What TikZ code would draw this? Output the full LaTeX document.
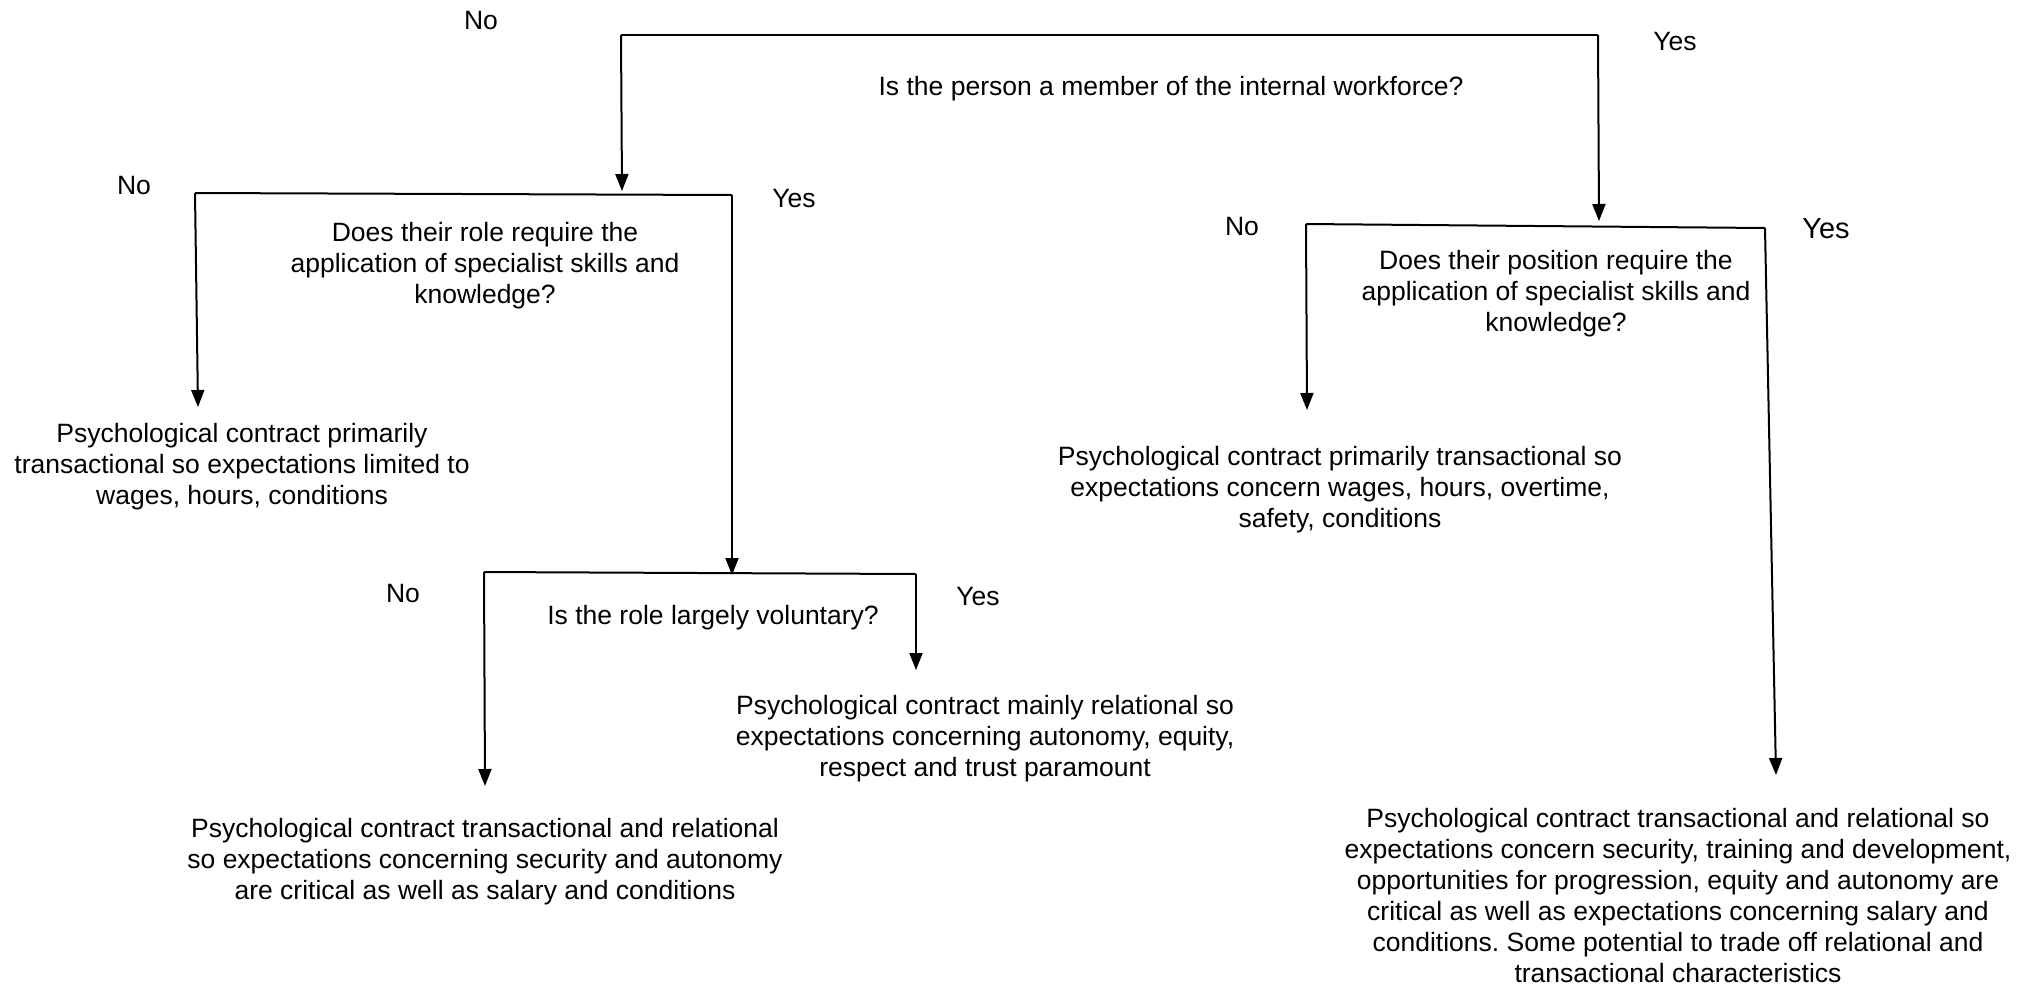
\documentclass[tikz,border=0pt]{standalone}
\usepackage{fontspec}
\setmainfont{Liberation Sans}
\usetikzlibrary{arrows.meta}
\frenchspacing
\begin{document}
\begin{tikzpicture}[x=0.5pt,y=-0.5pt,
  txt/.style={align=center,inner sep=0pt,font=\fontsize{13.25}{15.5}\selectfont},
  lbl/.style={inner sep=0pt,font=\fontsize{13.25}{15.5}\selectfont},
  biglbl/.style={inner sep=0pt,font=\fontsize{14.5}{17}\selectfont},
  link/.style={line width=1pt},
  arr/.style={line width=1pt,-{Triangle[length=8.5pt,width=6.5pt]}}]
\useasboundingbox (0,0) rectangle (2040,986);

% --- questions ---
\node[txt] (q1) at (1171,89) {Is the person a member of the internal workforce?};
\node[txt] (q2) at (485,266) {Does their role require the\\application of specialist skills and\\knowledge?};
\node[txt] (q3) at (713,618) {Is the role largely voluntary?};
\node[txt] (q4) at (1556,294) {Does their position require the\\application of specialist skills and\\knowledge?};

% --- outcomes ---
\node[txt] (oA) at (242,467) {Psychological contract primarily\\transactional so expectations limited to\\wages, hours, conditions};
\node[txt] (oB) at (985,739) {Psychological contract mainly relational so\\expectations concerning autonomy, equity,\\respect and trust paramount};
\node[txt] (oC) at (485,862) {Psychological contract transactional and relational\\so expectations concerning security and autonomy\\are critical as well as salary and conditions};
\node[txt] (oD) at (1340,490) {Psychological contract primarily transactional so\\expectations concern wages, hours, overtime,\\safety, conditions};
\node[txt] (oE) at (1678,896) {Psychological contract transactional and relational so\\expectations concern security, training and development,\\opportunities for progression, equity and autonomy are\\critical as well as expectations concerning salary and\\conditions. Some potential to trade off relational and\\transactional characteristics};

% --- branch labels ---
\node[lbl] (n1) at (481,21) {No};
\node[lbl] (y1) at (1675,42) {Yes};
\node[lbl] (n2) at (134,186) {No};
\node[lbl] (y2) at (794,199) {Yes};
\node[lbl] (n3) at (403,594) {No};
\node[lbl] (y3) at (978,597) {Yes};
\node[lbl] (n4) at (1242,227) {No};
\node[biglbl] (y4) at (1826,229) {Yes};

% --- branch corners and arrow ends ---
\coordinate (c1L) at (621,35);
\coordinate (c1R) at (1598,35);
\coordinate (e1L) at (622,191);
\coordinate (e1R) at (1599,221);

\coordinate (c2L) at (195,193);
\coordinate (c2R) at (732,195);
\coordinate (e2L) at (198,407);
\coordinate (e2R) at (732,575);

\coordinate (c3L) at (484,572);
\coordinate (c3R) at (916,574);
\coordinate (e3L) at (485,786);
\coordinate (e3R) at (916,670);

\coordinate (c4L) at (1306,224);
\coordinate (c4R) at (1765,228);
\coordinate (e4L) at (1307,410);
\coordinate (e4R) at (1776,775);

% --- connectors ---
\draw[link] (c1L) -- (c1R);
\draw[arr] (c1L) -- (e1L);
\draw[arr] (c1R) -- (e1R);

\draw[link] (c2L) -- (c2R);
\draw[arr] (c2L) -- (e2L);
\draw[arr] (c2R) -- (e2R);

\draw[link] (c3L) -- (c3R);
\draw[arr] (c3L) -- (e3L);
\draw[arr] (c3R) -- (e3R);

\draw[link] (c4L) -- (c4R);
\draw[arr] (c4L) -- (e4L);
\draw[arr] (c4R) -- (e4R);
\end{tikzpicture}
\end{document}
